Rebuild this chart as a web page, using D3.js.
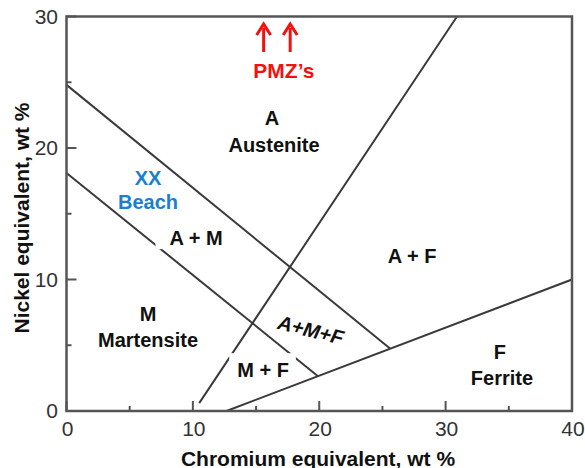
<!DOCTYPE html>
<html>
<head>
<meta charset="utf-8">
<script src="https://cdn.jsdelivr.net/npm/d3@7"></script>
<style>
  body { margin: 0; background: #fff; }
  svg { display: block; font-family: "Liberation Sans", Arial, sans-serif; }
</style>
</head>
<body>
<svg id="chart" width="585" height="468"></svg>
<script>
// Schaeffler-type diagram: Cr-eq (x) vs Ni-eq (y)
var xTicks = [0, 10, 20, 30, 40];
var yTicks = [0, 10, 20, 30];
var xMinor = [5, 15, 25, 35];
var yMinor = [5, 15, 25];

// phase boundary lines, [Cr, Ni] end points
var austeniteLine = [[0, 24.8], [25.6, 4.75]];
var martensiteLine = [[0, 18.1], [19.9, 2.65]];
var ferriteStartLine = [[10.5, 0.6], [30.9, 30]];
var ferriteLine = [[12.66, 0], [40, 10]];

// region labels [text, Cr, Ni] (label centre)
var blackLabels = [
  ["A", 16.26, 22.28],
  ["Austenite", 16.42, 20.23],
  ["A + M", 10.25, 13.16],
  ["A + F", 27.34, 11.79],
  ["M", 6.45, 7.38],
  ["Martensite", 6.45, 5.4],
  ["M + F", 15.55, 3.12],
  ["F", 34.3, 4.49],
  ["Ferrite", 34.46, 2.51]
];
var blueLabels = [["XX", 6.45, 17.72], ["Beach", 6.45, 15.89]];
var pmzArrowsCr = [15.6, 17.7];

var svg = d3.select("#chart");
var x = d3.scaleLinear().domain([0, 40]).range([66.5, 572]);
var y = d3.scaleLinear().domain([0, 30]).range([411, 16.5]);

var lineCol = "#3a3a3a";
var line = d3.line().x((d) => x(d[0])).y((d) => y(d[1]));

// boundary lines
[austeniteLine, martensiteLine, ferriteStartLine, ferriteLine].forEach((pts) => {
  svg.append("path").attr("d", line(pts))
    .attr("fill", "none").attr("stroke", lineCol).attr("stroke-width", 2);
});

// frame
svg.append("rect")
  .attr("x", x(0)).attr("y", y(30))
  .attr("width", x(40) - x(0)).attr("height", y(0) - y(30))
  .attr("fill", "none").attr("stroke", "#555").attr("stroke-width", 2.5);

// inward ticks
var tickG = svg.append("g").attr("stroke", "#555").attr("stroke-width", 2);
xTicks.concat(xMinor).forEach((t) => {
  var len = xMinor.indexOf(t) >= 0 ? 5 : 10;
  tickG.append("line").attr("x1", x(t)).attr("x2", x(t))
    .attr("y1", y(0)).attr("y2", y(0) - len);
});
yTicks.concat(yMinor).forEach((t) => {
  var len = yMinor.indexOf(t) >= 0 ? 5 : 10;
  tickG.append("line").attr("y1", y(t)).attr("y2", y(t))
    .attr("x1", x(0)).attr("x2", x(0) + len);
});

// tick labels
svg.selectAll(".xt").data(xTicks).enter().append("text")
  .attr("x", (d) => x(d) + 1).attr("y", 436)
  .attr("text-anchor", "middle").attr("font-size", 21).attr("fill", "#333")
  .text((d) => d);
svg.selectAll(".yt").data(yTicks).enter().append("text")
  .attr("x", 58).attr("y", (d) => y(d) + 7)
  .attr("text-anchor", "end").attr("font-size", 21).attr("fill", "#333")
  .text((d) => d);

// axis titles
svg.append("text").attr("x", 318).attr("y", 466)
  .attr("text-anchor", "middle").attr("font-size", 21).attr("font-weight", "bold")
  .attr("fill", "#111").text("Chromium equivalent, wt %");
svg.append("text").attr("transform", "translate(29,218) rotate(-90)")
  .attr("text-anchor", "middle").attr("font-size", 21).attr("font-weight", "bold")
  .attr("fill", "#111").text("Nickel equivalent, wt %");

// region labels, some with a white knock-out box behind (as in the source figure)
function addLabel(d, col, knockout) {
  var t = svg.append("text").attr("x", x(d[1])).attr("y", y(d[2]))
    .attr("dy", "0.36em")
    .attr("text-anchor", "middle").attr("font-size", 20).attr("font-weight", "bold")
    .attr("fill", col).text(d[0]);
  if (knockout) {
    var b = t.node().getBBox();
    svg.insert("rect", "text")
      .attr("x", b.x - knockout[0]).attr("y", b.y - knockout[1])
      .attr("width", b.width + knockout[0] + knockout[2])
      .attr("height", b.height + knockout[1] + knockout[3])
      .attr("fill", "#fff");
  }
}
blackLabels.forEach((d) => {
  var ko = null;
  if (d[0] === "M + F") ko = [8, 6, 7, -2];
  if (d[0] === "A + M") ko = [14, -2, 0, 0];
  addLabel(d, "#111", ko);
});
blueLabels.forEach((d) => addLabel(d, "#1a7fd0", null));

// slanted A+M+F
svg.append("text")
  .attr("transform", "translate(" + x(19.35) + "," + y(6.16) + ") rotate(14) skewX(-10)")
  .attr("dy", "0.36em")
  .attr("text-anchor", "middle").attr("font-size", 20).attr("font-weight", "bold")
  .attr("fill", "#111").text("A+M+F");

// PMZ arrows
var red = "#f50f0f";
pmzArrowsCr.forEach((c) => {
  svg.append("line").attr("x1", x(c)).attr("x2", x(c))
    .attr("y1", 52).attr("y2", 28)
    .attr("stroke", red).attr("stroke-width", 3);
  svg.append("path")
    .attr("d", "M" + (x(c) - 7) + ",35 L" + x(c) + ",24 L" + (x(c) + 7) + ",35")
    .attr("fill", "none").attr("stroke", red).attr("stroke-width", 3);
});
svg.append("text").attr("x", x(17.2)).attr("y", 78)
  .attr("text-anchor", "middle").attr("font-size", 21).attr("font-weight", "bold")
  .attr("fill", red).text("PMZ\u2019s");
</script>
</body>
</html>
